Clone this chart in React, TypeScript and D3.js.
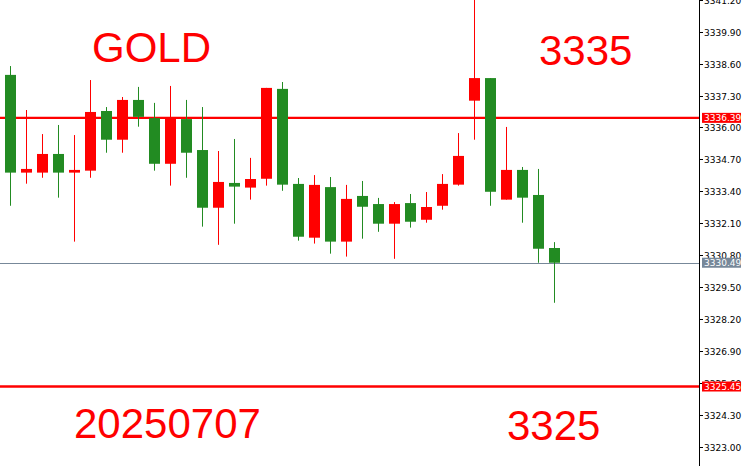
import { useEffect, useRef } from "react";
import * as d3 from "d3";

// OHLC candles (red = up, green = down)
const opens = [
  3338.14, 3334.16, 3334.16, 3334.92, 3334.16, 3334.24, 3336.67, 3335.5, 3337.12, 3336.38,
  3334.52, 3336.34, 3335.08, 3332.73, 3333.74, 3333.55, 3333.91, 3337.57, 3333.7, 3331.51,
  3333.57, 3331.35, 3333.21, 3332.88, 3332.08, 3332.92, 3332.24, 3332.81, 3333.67, 3337.09,
  3338.01, 3333.06, 3334.27, 3333.25, 3331.09,
];
const highs = [
  3338.5, 3336.71, 3335.73, 3336.1, 3335.69, 3337.93, 3336.83, 3337.24, 3337.65, 3337.0,
  3337.69, 3337.12, 3336.83, 3335.04, 3335.53, 3334.76, 3337.61, 3337.85, 3333.94, 3334.06,
  3333.98, 3333.66, 3333.82, 3333.13, 3332.96, 3333.29, 3333.37, 3334.1, 3335.77, 3341.8,
  3338.01, 3336.02, 3334.39, 3334.31, 3331.33,
];
const lows = [
  3332.81, 3333.71, 3333.95, 3333.14, 3331.35, 3333.95, 3334.97, 3334.97, 3336.03, 3334.24,
  3333.63, 3333.95, 3331.96, 3331.22, 3332.08, 3333.06, 3333.63, 3333.42, 3331.39, 3331.27,
  3330.86, 3330.74, 3331.47, 3331.75, 3330.65, 3331.92, 3332.12, 3332.65, 3333.63, 3335.5,
  3332.81, 3333.06, 3332.12, 3330.49, 3328.86,
];
const closes = [
  3334.16, 3334.31, 3334.92, 3334.16, 3334.27, 3336.63, 3335.5, 3337.12, 3336.43, 3334.52,
  3336.38, 3334.97, 3332.73, 3333.78, 3333.59, 3333.9, 3337.61, 3333.67, 3331.55, 3333.66,
  3331.35, 3333.09, 3332.77, 3332.08, 3332.88, 3332.16, 3332.76, 3333.7, 3334.84, 3338.01,
  3333.38, 3334.27, 3333.14, 3331.06, 3330.49,
];

const tickValues = [
  3341.2, 3339.9, 3338.6, 3337.3, 3336.0, 3334.7, 3333.4, 3332.1, 3330.8, 3329.5, 3328.2,
  3326.9, 3325.6, 3324.3, 3323.0,
];

const levelLines = [3336.39, 3325.45];
const bidPrice = 3330.49;

const labels = [
  { text: "GOLD", x: 92, y: 62 },
  { text: "3335", x: 539, y: 65 },
  { text: "20250707", x: 74, y: 438 },
  { text: "3325", x: 507, y: 440 },
];

export default function App() {
  const svgRef = useRef<SVGSVGElement>(null);

  useEffect(() => {
    if (!svgRef.current) return;
    d3.select(svgRef.current).selectAll("*").remove();

    const width = 747;
    const height = 466;
    const axisX = 699;

    const svg = d3.select(svgRef.current).attr("width", width).attr("height", height);

    svg.append("rect").attr("width", width).attr("height", height).attr("fill", "#fff");

    const yScale = d3.scaleLinear().domain([3339.9, 3323.0]).range([31.67, 446.67]);
    const xScale = d3.scaleLinear().domain([0, opens.length - 1]).range([10.5, 554.5]);

    const up = "#ff0000";
    const down = "#228b22";

    // level lines
    svg
      .selectAll("line.level")
      .data(levelLines)
      .enter()
      .append("line")
      .attr("class", "level")
      .attr("x1", 0)
      .attr("x2", axisX)
      .attr("y1", (d) => yScale(d))
      .attr("y2", (d) => yScale(d))
      .attr("stroke", up)
      .attr("stroke-width", 2.4);

    // bid line
    svg
      .append("line")
      .attr("x1", 0)
      .attr("x2", axisX)
      .attr("y1", Math.round(yScale(bidPrice)) + 0.5)
      .attr("y2", Math.round(yScale(bidPrice)) + 0.5)
      .attr("stroke", "#778899")
      .attr("stroke-width", 1);

    // candles
    const candles = svg
      .selectAll("g.candle")
      .data(opens.map((o, i) => ({ o, h: highs[i], l: lows[i], c: closes[i], i })))
      .enter()
      .append("g")
      .attr("class", "candle");

    candles
      .append("line")
      .attr("x1", (d) => Math.floor(xScale(d.i)) + 0.5)
      .attr("x2", (d) => Math.floor(xScale(d.i)) + 0.5)
      .attr("y1", (d) => yScale(d.h))
      .attr("y2", (d) => yScale(d.l))
      .attr("stroke", (d) => (d.c >= d.o ? up : down))
      .attr("stroke-width", 1);

    candles
      .append("rect")
      .attr("x", (d) => Math.floor(xScale(d.i)) - 5)
      .attr("width", 11)
      .attr("y", (d) => yScale(Math.max(d.o, d.c)))
      .attr("height", (d) => Math.max(1, Math.abs(yScale(d.o) - yScale(d.c))))
      .attr("fill", (d) => (d.c >= d.o ? up : down));

    // right axis
    svg
      .append("line")
      .attr("x1", axisX + 0.5)
      .attr("x2", axisX + 0.5)
      .attr("y1", 0)
      .attr("y2", height)
      .attr("stroke", "#000");

    const ticks = svg
      .selectAll("g.tick")
      .data(tickValues)
      .enter()
      .append("g")
      .attr("class", "tick")
      .attr("transform", (d) => `translate(${axisX},${Math.round(yScale(d)) + 0.5})`);

    ticks.append("line").attr("x1", 0).attr("x2", 4).attr("stroke", "#000");

    ticks
      .append("text")
      .attr("x", 5)
      .attr("dy", "0.35em")
      .style("font-family", "DejaVu Sans")
      .style("font-size", "9px")
      .attr("fill", "#000")
      .text((d) => d.toFixed(2));

    // price labels
    const priceTags = [
      { v: levelLines[0], color: up },
      { v: bidPrice, color: "#778899" },
      { v: levelLines[1], color: up },
    ];
    const tags = svg
      .selectAll("g.tag")
      .data(priceTags)
      .enter()
      .append("g")
      .attr("class", "tag")
      .attr("transform", (d) => `translate(${axisX + 3},${yScale(d.v)})`);

    tags
      .append("rect")
      .attr("x", 0)
      .attr("y", -5)
      .attr("width", 39)
      .attr("height", 10)
      .attr("fill", (d) => d.color);

    tags
      .append("text")
      .attr("x", 2)
      .attr("dy", "0.35em")
      .style("font-family", "DejaVu Sans")
      .style("font-size", "9px")
      .attr("fill", "#fff")
      .text((d) => d.v.toFixed(2));

    // big annotations
    svg
      .selectAll("text.note")
      .data(labels)
      .enter()
      .append("text")
      .attr("class", "note")
      .attr("x", (d) => d.x)
      .attr("y", (d) => d.y)
      .style("font-family", "Liberation Sans, Arial, sans-serif")
      .style("font-size", "42px")
      .attr("fill", "#ff0000")
      .text((d) => d.text);
  }, []);

  return (
    <div style={{ position: "absolute", left: 0, top: 0 }}>
      <svg ref={svgRef} style={{ display: "block" }}></svg>
    </div>
  );
}
